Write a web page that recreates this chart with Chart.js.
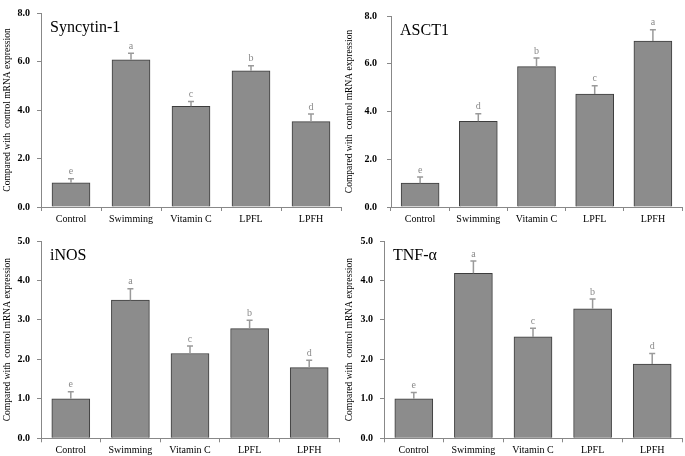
<!DOCTYPE html>
<html>
<head>
<meta charset="utf-8">
<script src="https://cdn.jsdelivr.net/npm/chart.js@4"></script>
<style>
  html, body { margin:0; padding:0; background:#fff; width:685px; height:456px; overflow:hidden; }
  canvas { position:absolute; }
</style>
</head>
<body>
<canvas id="c1" width="342" height="228" style="left:0;top:0"></canvas>
<canvas id="c2" width="343" height="228" style="left:342px;top:0"></canvas>
<canvas id="c3" width="342" height="228" style="left:0;top:228px"></canvas>
<canvas id="c4" width="343" height="228" style="left:342px;top:228px"></canvas>
<script>
const categories = ['Control', 'Swimming', 'Vitamin C', 'LPFL', 'LPFH'];

const syncytinMean = [1.0, 6.07, 4.15, 5.62, 3.52];
const syncytinErr  = [0.17, 0.27, 0.20, 0.20, 0.31];
const syncytinLetters = ['e', 'a', 'c', 'b', 'd'];

const asct1Mean = [1.0, 3.59, 5.88, 4.73, 6.95];
const asct1Err  = [0.26, 0.32, 0.36, 0.35, 0.47];
const asct1Letters = ['e', 'd', 'b', 'c', 'a'];

const inosMean = [1.0, 3.50, 2.15, 2.78, 1.79];
const inosErr  = [0.18, 0.29, 0.19, 0.21, 0.19];
const inosLetters = ['e', 'a', 'c', 'b', 'd'];

const tnfMean = [1.0, 4.18, 2.57, 3.28, 1.88];
const tnfErr  = [0.16, 0.31, 0.22, 0.25, 0.27];
const tnfLetters = ['e', 'a', 'c', 'b', 'd'];

const yTicksTop = [0, 2, 4, 6, 8];
const yTicksBottom = [0, 1, 2, 3, 4, 5];

const yTitle = 'Compared with  control mRNA expression';
const SERIF = '"Liberation Serif", "Times New Roman", serif';

const annot = {
  id: 'annot',
  afterDatasetsDraw(chart, args, opts) {
    const { ctx, chartArea } = chart;
    const meta = chart.getDatasetMeta(0);
    const y = chart.scales.y;
    const means = chart.data.datasets[0].data;
    ctx.save();
    meta.data.forEach((bar, i) => {
      const yBar = y.getPixelForValue(means[i]);
      const yTop = y.getPixelForValue(means[i] + opts.errs[i]);
      ctx.strokeStyle = '#9a9a9a';
      ctx.lineWidth = 1.5;
      ctx.beginPath();
      ctx.moveTo(bar.x, yBar);
      ctx.lineTo(bar.x, yTop);
      ctx.moveTo(bar.x - 3, yTop);
      ctx.lineTo(bar.x + 3, yTop);
      ctx.stroke();
      ctx.fillStyle = '#8a8a8a';
      ctx.font = '10px ' + SERIF;
      ctx.textAlign = 'center';
      ctx.textBaseline = 'middle';
      ctx.fillText(opts.letters[i], bar.x, yTop - 7);
    });
    ctx.fillStyle = '#000';
    ctx.font = '16px ' + SERIF;
    ctx.textAlign = 'left';
    ctx.textBaseline = 'middle';
    ctx.fillText(opts.title, chartArea.left + 9, chartArea.top + 15);
    ctx.restore();
  }
};

function makeChart(id, title, means, errs, letters, tickVals, pad, yWidth, xHeight, tickPad) {
  const maxV = tickVals[tickVals.length - 1];
  const step = tickVals[1] - tickVals[0];
  return new Chart(document.getElementById(id), {
    type: 'bar',
    data: {
      labels: categories,
      datasets: [{
        data: means,
        backgroundColor: '#8c8c8c',
        borderColor: '#3c3c3c',
        borderWidth: 1,
        barThickness: 38
      }]
    },
    options: {
      responsive: false,
      animation: false,
      devicePixelRatio: 1,
      layout: { padding: pad },
      plugins: {
        legend: { display: false },
        tooltip: { enabled: false },
        annot: { title: title, errs: errs, letters: letters }
      },
      scales: {
        x: {
          grid: { display: true, drawOnChartArea: false, drawTicks: true, tickLength: 4, color: '#888', offset: true },
          border: { display: true, color: '#888', width: 1 },
          ticks: { color: '#000', font: { family: SERIF, size: 10 }, padding: 2, maxRotation: 0, autoSkip: false },
          afterFit: s => { s.height = xHeight; }
        },
        y: {
          min: 0, max: maxV,
          grid: { display: true, drawOnChartArea: false, drawTicks: true, tickLength: 4, color: '#888' },
          border: { display: true, color: '#888', width: 1 },
          ticks: {
            stepSize: step, color: '#000', padding: tickPad,
            font: { family: SERIF, size: 10, weight: 'bold' },
            callback: v => Number(v).toFixed(1)
          },
          title: { display: true, text: yTitle, color: '#000', font: { family: SERIF, size: 9.5 }, padding: { top: 2, bottom: 0 } },
          afterFit: s => { s.width = yWidth; }
        }
      }
    },
    plugins: [annot]
  });
}

makeChart('c1', 'Syncytin-1', syncytinMean, syncytinErr, syncytinLetters, yTicksTop,
  { top: 7, right: 1, left: 0, bottom: 0 }, 41, 21, 7);
makeChart('c2', 'ASCT1', asct1Mean, asct1Err, asct1Letters, yTicksTop,
  { top: 7, right: 3, left: 0, bottom: 0 }, 49, 21, 10);
makeChart('c3', 'iNOS', inosMean, inosErr, inosLetters, yTicksBottom,
  { top: 10, right: 3, left: 0, bottom: 0 }, 41, 17.7, 7);
makeChart('c4', 'TNF-α', tnfMean, tnfErr, tnfLetters, yTicksBottom,
  { top: 10, right: 3, left: 0, bottom: 0 }, 42, 17.7, 7);
</script>
</body>
</html>
